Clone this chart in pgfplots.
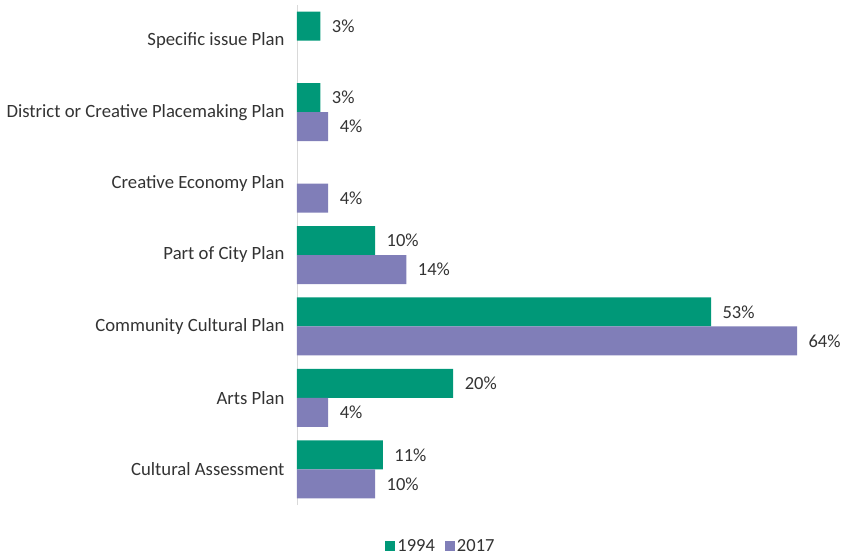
\documentclass[border=0pt]{standalone}
\usepackage{pgfplots}
\pgfplotsset{compat=1.18}
\usepackage{fontspec}
\setmainfont{Carlito}
\definecolor{cgreen}{RGB}{0,152,120}
\definecolor{cpurple}{RGB}{128,126,184}
\definecolor{cline}{RGB}{217,217,217}

\begin{document}
\begin{tikzpicture}
\useasboundingbox (-297pt,-50pt) rectangle (546pt,505pt);
\begin{axis}[
    xbar,
    scale only axis,
    width=500pt, height=500pt,
    xmin=0, xmax=64,
    ymin=-0.5, ymax=6.5,
    bar width=29pt,
    axis x line=none,
    axis y line*=left,
    y axis line style={cline, line width=0.8pt, -},
    ytick={0,1,2,3,4,5,6},
    yticklabels={Cultural Assessment, Arts Plan, Community Cultural Plan,
      Part of City Plan, Creative Economy Plan,
      District or Creative Placemaking Plan, Specific issue Plan},
    major tick length=0pt,
    yticklabel style={font=\fontsize{18.7}{21}\selectfont, text=black!80},
    y tick label style={xshift=-9pt},
    clip=false,
    nodes near coords={\pgfmathprintnumber[assume math mode=true]{\pgfplotspointmeta}\%},
    nodes near coords style={font=\fontsize{18.5}{21}\selectfont, text=black!80, anchor=west, xshift=8pt},
    legend columns=2,
    legend style={draw=none, at={(0.288,-0.082)}, anchor=center,
      font=\fontsize{18.5}{21}\selectfont, text=black!80,
      /tikz/every even column/.append style={column sep=8pt}},
    legend image code/.code={\fill[#1] (0pt,-5pt) rectangle (10pt,5pt);},
  ]
\addplot[draw=none, fill=cgreen, bar shift=14.5pt] coordinates {
  (11,0) (20,1) (53,2) (10,3) (3,5) (3,6)};
\addplot[draw=none, fill=cpurple, bar shift=-14.5pt] coordinates {
  (10,0) (4,1) (64,2) (14,3) (4,4) (4,5)};
\legend{1994, 2017}
\end{axis}
\end{tikzpicture}
\end{document}
